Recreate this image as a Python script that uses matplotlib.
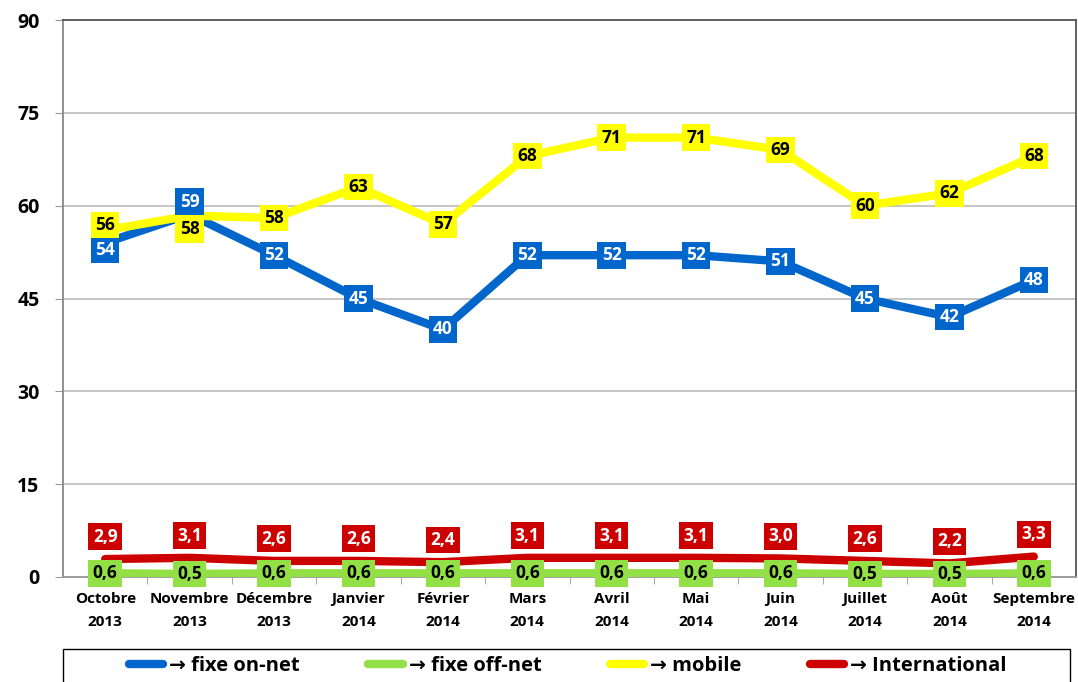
import matplotlib.pyplot as plt
from matplotlib.lines import Line2D
from matplotlib.patches import Rectangle

plt.rcParams["font.family"] = ["Open Sans", "DejaVu Sans"]

MOIS = ["Octobre\n2013", "Novembre\n2013", "Décembre\n2013", "Janvier\n2014",
        "Février\n2014", "Mars\n2014", "Avril\n2014", "Mai\n2014",
        "Juin\n2014", "Juillet\n2014", "Août\n2014", "Septembre\n2014"]

fixe_on_net = [54, 58.6, 52, 45, 40, 52, 52, 52, 51, 45, 42, 48]
fixe_off_net = [0.6, 0.5, 0.6, 0.6, 0.6, 0.6, 0.6, 0.6, 0.6, 0.5, 0.5, 0.6]
mobile = [56, 58.4, 58, 63, 57, 68, 71, 71, 69, 60, 62, 68]
international = [2.9, 3.1, 2.6, 2.6, 2.4, 3.1, 3.1, 3.1, 3.0, 2.6, 2.2, 3.3]

on_net_labels = ["54", "59", "52", "45", "40", "52", "52", "52", "51", "45", "42", "48"]
mobile_labels = ["56", "58", "58", "63", "57", "68", "71", "71", "69", "60", "62", "68"]

COULEURS = {
    "on": "#0066CC",
    "off": "#92E045",
    "mob": "#FFFF00",
    "int": "#CC0000",
}

fig = plt.figure(figsize=(10.78, 6.82), dpi=100)
ax = fig.add_axes([63 / 1078, 105 / 682, 1013 / 1078, 557 / 682])

x = list(range(len(MOIS)))

ax.plot(x, international, color=COULEURS["int"], lw=6, solid_capstyle="round", zorder=3)
ax.plot(x, fixe_off_net, color=COULEURS["off"], lw=6, solid_capstyle="butt", zorder=3)
ax.plot(x, fixe_on_net, color=COULEURS["on"], lw=6, solid_joinstyle="round", zorder=4)
ax.plot(x, mobile, color=COULEURS["mob"], lw=6, solid_joinstyle="round", zorder=5)


def etiquette(xi, yi, texte, fond, couleur, dy=0, z=6):
    ax.annotate(texte, (xi, yi), xytext=(0, dy), textcoords="offset points",
                ha="center", va="center", fontsize=12.5, fontweight="bold",
                color=couleur, zorder=z,
                bbox=dict(boxstyle="square,pad=0.25", fc=fond, ec="none"))


for i in x:
    dy_on = 0
    dy_mob = 0
    if i == 0:
        dy_on, dy_mob = -5, 4
    if i == 1:
        dy_on, dy_mob = 9, -10
    etiquette(i, fixe_on_net[i], on_net_labels[i], COULEURS["on"], "white", dy_on, 7)
    etiquette(i, mobile[i], mobile_labels[i], COULEURS["mob"], "black", dy_mob, 8)
    etiquette(i, international[i], f"{international[i]:.1f}".replace(".", ","),
              COULEURS["int"], "white", 16, 6)
    etiquette(i, fixe_off_net[i], f"{fixe_off_net[i]:.1f}".replace(".", ","),
              COULEURS["off"], "black", 0, 6)

ax.set_xlim(-0.5, len(MOIS) - 0.5)
ax.set_ylim(0, 90)
ax.set_yticks([0, 15, 30, 45, 60, 75, 90])
ax.set_yticklabels(["0", "15", "30", "45", "60", "75", "90"],
                   fontsize=14, fontweight="bold")
ax.set_xticks(x)
ax.set_xticklabels(MOIS, fontsize=11, fontweight="bold", linespacing=1.75)
ax.set_xticks([i - 0.5 for i in range(1, len(MOIS))], minor=True)
ax.tick_params(axis="x", which="major", length=0, pad=11)
ax.tick_params(axis="x", which="minor", length=5, color="#999999")
ax.tick_params(axis="y", length=6, color="#999999", pad=11)

ax.grid(axis="y", color="#BBBBBB", lw=1.2)
ax.set_axisbelow(True)
ax.spines["left"].set_color("#888888")
ax.spines["bottom"].set_color("#999999")
ax.spines["top"].set_color("#555555")
ax.spines["right"].set_color("#555555")
for s in ax.spines.values():
    s.set_linewidth(1.3)

handles = [
    Line2D([], [], color=COULEURS["on"], lw=6, solid_capstyle="round"),
    Line2D([], [], color=COULEURS["off"], lw=6, solid_capstyle="round"),
    Line2D([], [], color=COULEURS["mob"], lw=6, solid_capstyle="round"),
    Line2D([], [], color=COULEURS["int"], lw=6, solid_capstyle="round"),
]
noms = ["→ fixe on-net", "→ fixe off-net", "→ mobile", "→ International"]
leg = fig.legend(handles, noms, loc="upper center", ncol=4,
                 bbox_to_anchor=(568 / 1078, 33 / 682),
                 frameon=False, prop={"size": 14.5, "weight": "bold"},
                 handlelength=1.7, handletextpad=0.3, columnspacing=3.4,
                 borderaxespad=0, borderpad=0.35)

# cadre de la légende sur toute la largeur du graphique
cadre = Rectangle((63 / 1078, -0.05), 1007 / 1078, 0.05 + 33 / 682,
                  transform=fig.transFigure, fill=False, ec="black", lw=1.0)
fig.patches.append(cadre)

fig.savefig("out.png", dpi=100)
